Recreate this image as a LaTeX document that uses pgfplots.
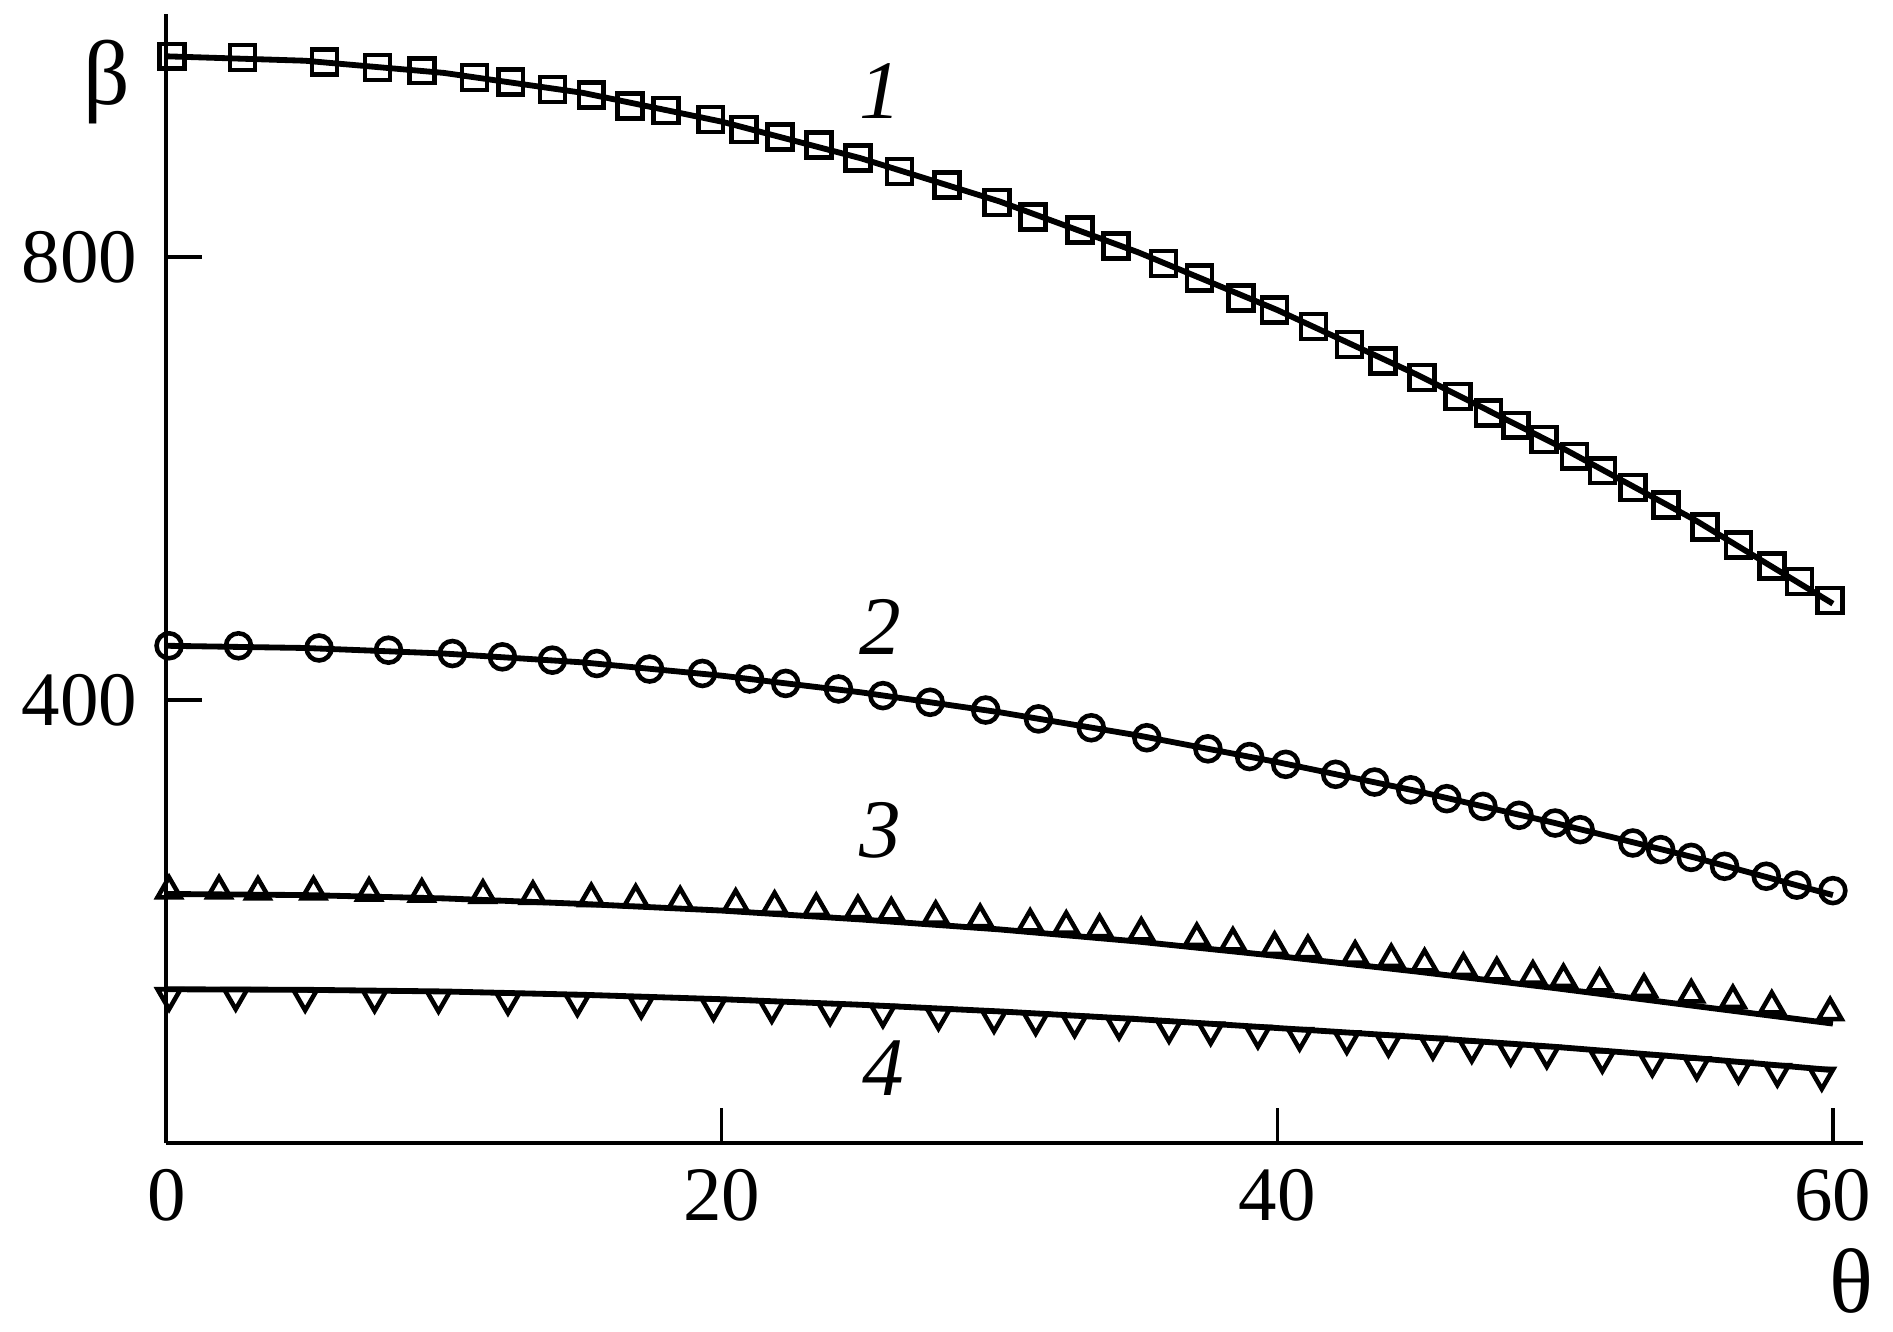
\documentclass[border=0pt]{standalone}
\usepackage{fontspec}
\setmainfont{Liberation Serif}
\usepackage{pgfplots}
\pgfplotsset{compat=1.18}

\begin{document}
\begin{tikzpicture}
\begin{axis}[
    scale only axis,
    width=14.34cm, height=9.54cm,
    xmin=0, xmax=61.1,
    ymin=0, ymax=1019,
    axis x line=bottom, axis y line=left,
    axis line style={-, line width=1pt},
    xtick={0,20,40,60}, ytick={400,800},
    tick align=inside,
    major tick length=0.3cm,
    tick style={line width=0.8pt, black},
    tick label style={font=\fontsize{18.5}{18.5}\selectfont},
    xticklabel style={yshift=-0.1cm},
    yticklabel style={xshift=-0.12cm},
    /pgf/number format/assume math mode=true,
    clip=false,
]
% curve 1 (squares)
\addplot[line width=1.4pt, black] coordinates {
 (0,981) (5,977) (10,966) (15,948) (20,922) (25,889) (30,850)
 (35,804) (40,752) (45,694) (50,631) (55,563) (60,487)};
\addplot[only marks, mark=square, mark size=3pt, mark options={line width=1.1pt, black}] coordinates {
 (0.2,981) (2.75,980) (5.7,976) (7.6,971) (9.2,968) (11.1,962) (12.4,958)
 (13.9,951) (15.3,946) (16.7,936) (18.0,932) (19.6,924) (20.8,915)
 (22.1,908) (23.5,901) (24.9,889) (26.4,877) (28.1,865) (29.9,849)
 (31.2,836) (32.9,824) (34.2,810) (35.9,794) (37.2,781) (38.7,763)
 (39.9,752) (41.3,737) (42.6,721) (43.8,706) (45.2,691) (46.5,674)
 (47.6,659) (48.6,648) (49.6,635) (50.7,620) (51.7,607) (52.8,592)
 (54.0,576) (55.4,556) (56.6,540) (57.8,521) (58.8,507) (59.9,490)};
% curve 2 (circles)
\addplot[line width=1.4pt, black] coordinates {
 (0,449) (5,447) (10,442) (15,434) (20,422) (25,407) (30,389)
 (35,368) (40,344) (45,318) (50,289) (55,258) (60,224)};
\addplot[only marks, mark=o, mark size=3pt, mark options={line width=1.1pt, black}] coordinates {
 (0.1,449) (2.6,449) (5.5,447) (8.0,445) (10.3,442) (12.1,439) (13.9,436)
 (15.5,433) (17.4,428) (19.3,424) (21.0,419) (22.3,415) (24.2,410)
 (25.8,404) (27.5,398) (29.5,391) (31.4,383) (33.3,375) (35.3,366)
 (37.5,356) (39.0,349) (40.3,342) (42.1,333) (43.5,326) (44.8,319)
 (46.1,311) (47.4,304) (48.7,296) (50.0,289) (50.9,283) (52.8,271)
 (53.8,265) (54.9,258) (56.1,250) (57.6,241) (58.7,233) (60.0,228)};
% curve 3 (triangles)
\addplot[line width=1.4pt, black] coordinates {
 (0,225) (5,224) (10,221) (15,216) (20,210) (25,202) (30,193)
 (35,182) (40,169) (45,155) (50,140) (55,124) (60,108)};
\addplot[only marks, mark=triangle, mark size=3.2pt, mark options={line width=1.1pt, black}] coordinates {
 (0.1,228) (1.9,228) (3.3,227) (5.3,227) (7.3,226) (9.2,225) (11.4,224)
 (13.2,223) (15.3,221) (16.9,220) (18.5,218) (20.5,216) (21.9,214)
 (23.4,212) (24.9,210) (26.1,208) (27.7,205) (29.3,202) (31.1,198)
 (32.4,196) (33.6,193) (35.1,190) (37.1,185) (38.4,181) (39.9,177)
 (41.1,174) (42.8,169) (44.1,166) (45.3,162) (46.7,158) (47.9,154)
 (49.2,151) (50.3,148) (51.6,144) (53.2,139) (54.9,134) (56.4,129)
 (57.8,124) (59.9,118)};
% curve 4 (inverted triangles)
\addplot[line width=1.4pt, black] coordinates {
 (0,139) (5,138.5) (10,137) (15,134) (20,130) (25,125) (30,119)
 (35,112) (40,104) (45,96) (50,87) (55,77) (60,66)};
\addplot[only marks, mark=triangle, mark size=3.2pt, mark options={line width=1.1pt, black, rotate=180}] coordinates {
 (0.1,133) (2.5,133) (5.0,132) (7.5,131.5) (9.8,131) (12.3,129.5)
 (14.8,128) (17.1,126) (19.7,124) (21.8,122) (23.9,120) (25.8,118)
 (27.8,115.5) (29.8,113) (31.3,111) (32.7,109) (34.3,107) (36.1,104)
 (37.6,102) (39.3,99) (40.8,97) (42.5,94) (44.0,91.5) (45.6,89)
 (47.0,86) (48.4,83.5) (49.7,81) (51.7,77) (53.5,73.5) (55.1,70.5)
 (56.6,67.5) (58.0,64.5) (59.6,61)};
\node[font=\fontsize{20}{20}\itshape] at (axis cs:25.7,950) {1};
\node[font=\fontsize{20}{20}\itshape] at (axis cs:25.7,466) {2};
\node[font=\fontsize{20}{20}\itshape] at (axis cs:25.7,282) {3};
\node[font=\fontsize{20}{20}\itshape] at (axis cs:25.8,68) {4};
\node[font=\fontsize{22}{22}\selectfont] at (axis cs:-2.14,958) {β};
\node[font=\fontsize{22}{22}\selectfont] at (axis cs:60.66,-124) {θ};
\coordinate (O) at (axis cs:0,0);
\end{axis}
\pgfresetboundingbox
\path ([shift={(-1.405cm,-1.59cm)}]O) rectangle ([shift={(14.59cm,9.66cm)}]O);
\end{tikzpicture}
\end{document}
